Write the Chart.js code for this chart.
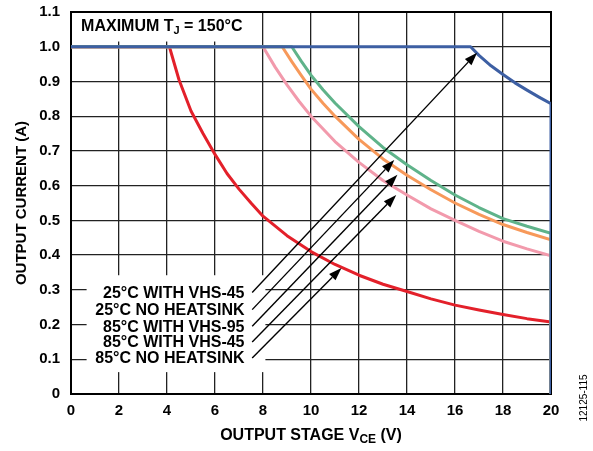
<!DOCTYPE html>
<html>
<head>
<meta charset="utf-8">
<script src="https://cdn.jsdelivr.net/npm/chart.js@4.4.1/dist/chart.umd.min.js"></script>
<style>
  html, body { margin: 0; padding: 0; background: #fff; }
  #wrap { width: 593px; height: 451px; }
</style>
</head>
<body>
<div id="wrap"><canvas id="chart" width="593" height="451"></canvas></div>
<script>
// curves: output current (A) vs output stage VCE (V)
var blueX = [0, 16.65, 17, 17.5, 18, 18.5, 19, 19.5, 20, 20];
var blueY = [1.0, 1.0, 0.975, 0.945, 0.92, 0.896, 0.875, 0.855, 0.836, 0];

var greenX = [0, 9.2, 9.6, 10, 10.5, 11, 12, 13, 14, 15, 16, 17, 18, 19, 20, 20];
var greenY = [1.0, 1.0, 0.958, 0.918, 0.876, 0.838, 0.77, 0.71, 0.66, 0.615, 0.573, 0.537, 0.505, 0.483, 0.463, 0];

var orangeX = [0, 8.8, 9.2, 9.6, 10, 10.5, 11, 12, 13, 14, 15, 16, 17, 18, 19, 20, 20];
var orangeY = [1.0, 1.0, 0.957, 0.917, 0.878, 0.837, 0.80, 0.733, 0.677, 0.63, 0.588, 0.55, 0.517, 0.488, 0.465, 0.444, 0];

var pinkX = [0, 8.0, 8.5, 9, 9.5, 10, 11, 12, 13, 14, 15, 16, 17, 18, 19, 20, 20];
var pinkY = [1.0, 1.0, 0.942, 0.89, 0.843, 0.80, 0.727, 0.667, 0.615, 0.573, 0.533, 0.50, 0.468, 0.44, 0.418, 0.398, 0];

var redX = [0, 4.1, 4.5, 5, 5.5, 6, 6.5, 7, 7.5, 8, 9, 10, 11, 12, 13, 14, 15, 16, 17, 18, 19, 20, 20];
var redY = [1.0, 1.0, 0.905, 0.815, 0.75, 0.69, 0.635, 0.59, 0.55, 0.512, 0.456, 0.41, 0.373, 0.342, 0.316, 0.295, 0.274, 0.256, 0.242, 0.229, 0.217, 0.207, 0];

var seriesLabels = ['25°C WITH VHS-45', '25°C NO HEATSINK', '85°C WITH VHS-95', '85°C WITH VHS-45', '85°C NO HEATSINK'];
var xTicks = [0, 2, 4, 6, 8, 10, 12, 14, 16, 18, 20];
var yTicks = [0, 0.1, 0.2, 0.3, 0.4, 0.5, 0.6, 0.7, 0.8, 0.9, 1.0, 1.1];

// arrow annotation ends (data units)
var arrowFromX = 7.55;
var arrowFromY = [0.292, 0.243, 0.195, 0.150, 0.104];
var arrowToX = [16.92, 13.47, 13.6, 13.55, 11.27];
var arrowToY = [0.983, 0.674, 0.631, 0.573, 0.363];

function pts(xs, ys) {
  return xs.map(function (x, i) { return { x: x, y: ys[i] }; });
}

var FONT = '"Liberation Sans", Arial, sans-serif';

function line(label, xs, ys, color) {
  return {
    label: label,
    data: pts(xs, ys),
    borderColor: color,
    backgroundColor: color,
    borderWidth: 3,
    borderJoinStyle: 'round',
    pointRadius: 0,
    tension: 0,
    fill: false
  };
}

function arrow(ctx, x1, y1, x2, y2) {
  var ang = Math.atan2(y2 - y1, x2 - x1);
  var len = 13, w = 4.5;
  var bx = x2 - len * Math.cos(ang), by = y2 - len * Math.sin(ang);
  ctx.beginPath();
  ctx.moveTo(x1, y1);
  ctx.lineTo(bx, by);
  ctx.stroke();
  ctx.beginPath();
  ctx.moveTo(x2, y2);
  ctx.lineTo(bx + w * Math.sin(ang), by - w * Math.cos(ang));
  ctx.lineTo(bx - w * Math.sin(ang), by + w * Math.cos(ang));
  ctx.closePath();
  ctx.fill();
}

var annot = {
  id: 'annot',
  beforeDatasetsDraw: function (chart) {
    var ctx = chart.ctx, a = chart.chartArea;
    var xs = chart.scales.x, ys = chart.scales.y;
    ctx.save();
    ctx.fillStyle = '#fff';
    // white box behind the title
    ctx.fillRect(a.left + 1, a.top + 1, xs.getPixelForValue(7.45) - a.left - 1, ys.getPixelForValue(1.015) - a.top - 1);
    // white box behind the labels
    var l = xs.getPixelForValue(0.65), r = xs.getPixelForValue(8.1);
    var t = ys.getPixelForValue(0.342), b = ys.getPixelForValue(0.063);
    ctx.fillRect(l, t, r - l, b - t);
    // frame
    ctx.strokeStyle = '#000';
    ctx.lineWidth = 2;
    ctx.strokeRect(a.left, a.top, a.right - a.left, a.bottom - a.top);
    ctx.restore();
  },
  afterDatasetsDraw: function (chart) {
    var ctx = chart.ctx, a = chart.chartArea;
    var xs = chart.scales.x, ys = chart.scales.y;
    ctx.save();
    ctx.fillStyle = '#000';
    ctx.strokeStyle = '#000';
    ctx.textBaseline = 'middle';

    // title box text
    var tx = xs.getPixelForValue(0.42), ty = ys.getPixelForValue(1.058);
    ctx.textAlign = 'left';
    ctx.font = 'bold 16px ' + FONT;
    ctx.fillText('MAXIMUM T', tx, ty);
    tx += ctx.measureText('MAXIMUM T').width;
    ctx.font = 'bold 11px ' + FONT;
    ctx.fillText('J', tx, ty + 4);
    tx += ctx.measureText('J').width;
    ctx.font = 'bold 16px ' + FONT;
    ctx.fillText(' = 150°C', tx, ty);

    // series labels and arrows
    ctx.textAlign = 'right';
    ctx.font = 'bold 16px ' + FONT;
    ctx.lineWidth = 1.4;
    var lx = xs.getPixelForValue(7.23);
    for (var i = 0; i < seriesLabels.length; i++) {
      ctx.fillText(seriesLabels[i], lx, ys.getPixelForValue(arrowFromY[i]) + 1);
      arrow(ctx, xs.getPixelForValue(arrowFromX), ys.getPixelForValue(arrowFromY[i]),
        xs.getPixelForValue(arrowToX[i]), ys.getPixelForValue(arrowToY[i]));
    }

    // y axis title
    ctx.save();
    ctx.translate(22, (a.top + a.bottom) / 2);
    ctx.rotate(-Math.PI / 2);
    ctx.textAlign = 'center';
    ctx.font = 'bold 15px ' + FONT;
    ctx.fillText('OUTPUT CURRENT (A)', 0, 0);
    ctx.restore();

    // x axis title with subscript
    var p1 = 'OUTPUT STAGE V', sub = 'CE', p2 = ' (V)';
    ctx.textAlign = 'left';
    ctx.font = 'bold 16px ' + FONT;
    var w1 = ctx.measureText(p1).width, w3 = ctx.measureText(p2).width;
    ctx.font = 'bold 12px ' + FONT;
    var w2 = ctx.measureText(sub).width;
    var sx = (a.left + a.right) / 2 - (w1 + w2 + w3) / 2, sy = 436;
    ctx.font = 'bold 16px ' + FONT;
    ctx.fillText(p1, sx, sy);
    ctx.font = 'bold 12px ' + FONT;
    ctx.fillText(sub, sx + w1, sy + 4);
    ctx.font = 'bold 16px ' + FONT;
    ctx.fillText(p2, sx + w1 + w2, sy);

    // figure id
    ctx.save();
    ctx.translate(584, 398);
    ctx.rotate(-Math.PI / 2);
    ctx.textAlign = 'center';
    ctx.font = '10px ' + FONT;
    ctx.fillText('12125-115', 0, 0);
    ctx.restore();

    ctx.restore();
  }
};

new Chart(document.getElementById('chart').getContext('2d'), {
  type: 'line',
  data: {
    datasets: [
      line(seriesLabels[0], blueX, blueY, '#3d5fa3'),
      line(seriesLabels[1], greenX, greenY, '#5fb38a'),
      line(seriesLabels[2], orangeX, orangeY, '#f7995a'),
      line(seriesLabels[3], pinkX, pinkY, '#f29aac'),
      line(seriesLabels[4], redX, redY, '#e3202a')
    ]
  },
  options: {
    responsive: false,
    animation: false,
    layout: { autoPadding: false, padding: { left: 0, top: 12, right: 42, bottom: 0 } },
    plugins: { legend: { display: false }, tooltip: { enabled: false } },
    scales: {
      x: {
        type: 'linear',
        min: 0, max: 20,
        afterFit: function (s) { s.height = 57; s.paddingLeft = 0; s.paddingRight = 0; },
        afterBuildTicks: function (s) { s.ticks = xTicks.map(function (v) { return { value: v }; }); },
        grid: { color: '#222', lineWidth: 1.3, drawTicks: false },
        border: { display: false },
        ticks: { color: '#000', padding: 8, maxRotation: 0, font: { family: FONT, size: 15, weight: 'bold' } }
      },
      y: {
        min: 0, max: 1.1,
        afterFit: function (s) { s.width = 71; s.paddingTop = 0; s.paddingBottom = 0; },
        afterBuildTicks: function (s) { s.ticks = yTicks.map(function (v) { return { value: v }; }); },
        grid: { color: '#222', lineWidth: 1.3, drawTicks: false },
        border: { display: false },
        ticks: {
          color: '#000', padding: 11,
          font: { family: FONT, size: 15, weight: 'bold' },
          callback: function (v) { return v === 0 ? '0' : v.toFixed(1); }
        }
      }
    }
  },
  plugins: [annot]
});
</script>
</body>
</html>
